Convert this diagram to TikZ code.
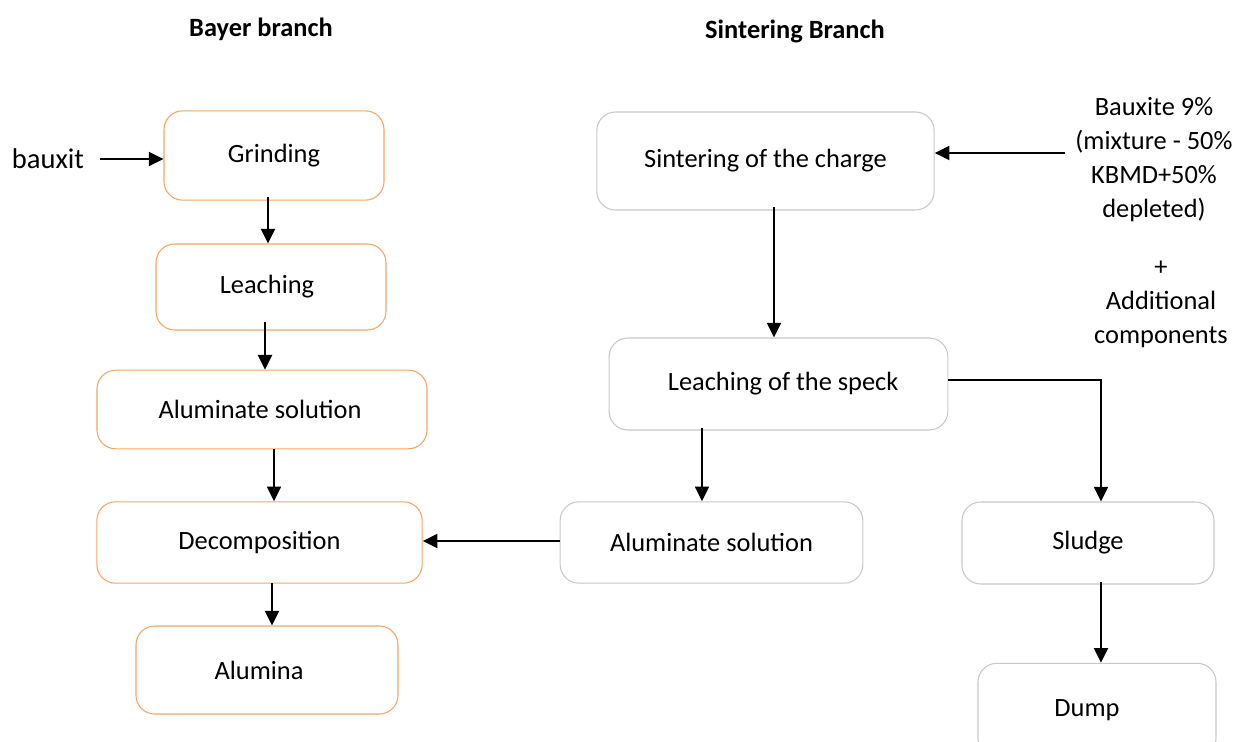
\documentclass[tikz,border=0pt]{standalone}
\usepackage{fontspec}
\setmainfont{Carlito}
\usetikzlibrary{arrows.meta}
\definecolor{borange}{RGB}{246,165,100}
\definecolor{bgray}{RGB}{200,200,200}
\tikzset{
  obox/.style={draw=borange, line width=0.8pt, rounded corners=14pt, align=center, font=\fontsize{19.8}{24}\selectfont, inner sep=0pt},
  gbox/.style={draw=bgray, line width=0.8pt, rounded corners=14pt, align=center, font=\fontsize{19.8}{24}\selectfont, inner sep=0pt},
  head/.style={font=\fontsize{19.8}{24}\selectfont\bfseries},
  plain/.style={font=\fontsize{19.8}{25.5}\selectfont, align=center, inner sep=0pt},
  arr/.style={-{Triangle[length=11pt,width=10.5pt]}, line width=1.5pt, black}
}
\begin{document}
\begin{tikzpicture}[x=0.75pt,y=-0.75pt]
\clip (0,0) rectangle (1236,742);
\useasboundingbox (0,0) rectangle (1236,742);
% headers
\node[head] (hbayer) at (261,29) {Bayer branch};
\node[head] (hsint) at (795,31) {Sintering Branch};
% Bayer branch
\node[obox, minimum width=165pt, minimum height=67pt] (grind) at (274,155.5) {Grinding};
\node[obox, minimum width=172.5pt, minimum height=64.5pt] (leach) at (271,287) {\hspace*{-6pt}Leaching};
\node[obox, minimum width=247.5pt, minimum height=59pt] (alsol) at (262,409.5) {\hspace*{-3pt}Aluminate solution};
\node[obox, minimum width=244pt, minimum height=61pt] (decomp) at (259.5,542.5) {Decomposition};
\node[obox, minimum width=196.5pt, minimum height=66pt] (alumina) at (267,670) {\hspace*{-12pt}Alumina};
\node[plain, font=\fontsize{21.4}{26}\selectfont] (bauxit) at (48,159) {bauxit};
% Sintering branch
\node[gbox, minimum width=253pt, minimum height=73.5pt] (sinter) at (765.5,161) {Sintering of the charge};
\node[gbox, minimum width=254pt, minimum height=69pt] (speck) at (778.5,384) {\hspace*{7pt}Leaching of the speck};
\node[gbox, minimum width=227pt, minimum height=61pt] (alsol2) at (711.5,542.5) {Aluminate solution};
\node[gbox, minimum width=189pt, minimum height=61.5pt] (sludge) at (1088,543) {Sludge};
\node[gbox, minimum width=178.5pt, minimum height=70pt] (dump) at (1097,710) {\hspace*{-15pt}Dump};
% inputs text
\node[plain] (bx) at (1154,160) {Bauxite 9\%\\(mixture - 50\%\\KBMD+50\%\\depleted)};
\node[plain] (addc) at (1161,304) {+\\Additional\\components};
% connectors
\draw[arr] (bauxit.east) ++(12pt,0) coordinate (bxs) -- (grind.west |- bxs);
\draw[arr] (268,197) coordinate (g1) -- (g1 |- leach.north);
\draw[arr] (265,322) coordinate (l1) -- (l1 |- alsol.north);
\draw[arr] (274,449) coordinate (a1) -- (a1 |- decomp.north);
\draw[arr] (272,583) coordinate (d1) -- (d1 |- alumina.north);
\draw[arr] (alsol2.west |- 0,541) coordinate (s1) -- (decomp.east |- s1);
\draw[arr] (1065,153) coordinate (t1) -- (sinter.east |- t1);
\draw[arr] (774,207) coordinate (c1) -- (c1 |- speck.north);
\draw[arr] (702,428) coordinate (p1) -- (p1 |- alsol2.north);
\draw[arr] (speck.east |- 0,380) coordinate (p2) -| (sludge.north -| 1101,0);
\draw[arr] (1101,582) coordinate (u1) -- (u1 |- dump.north);
\end{tikzpicture}
\end{document}
